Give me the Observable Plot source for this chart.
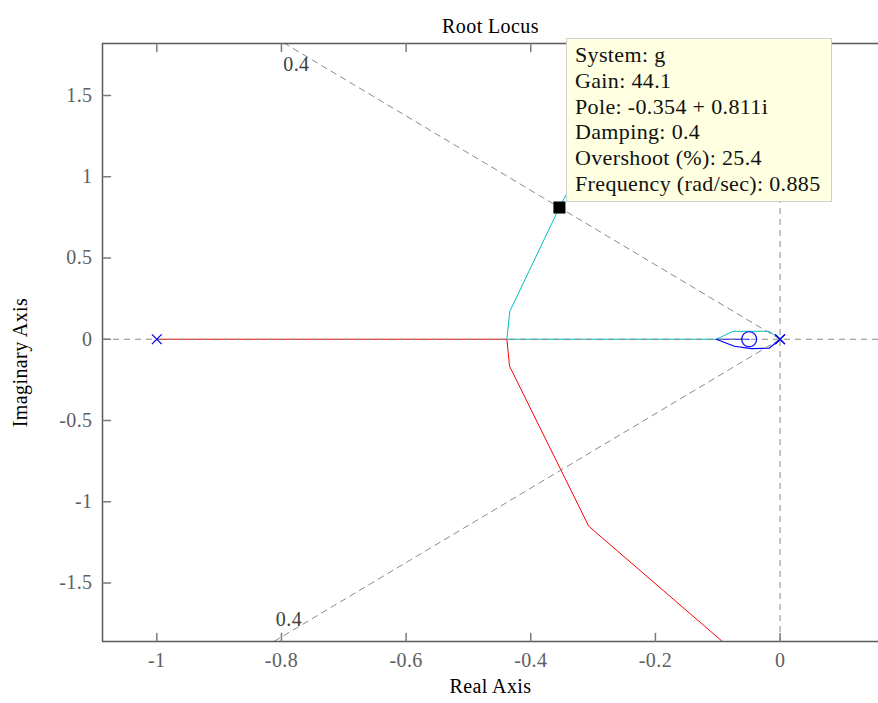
<!DOCTYPE html>
<html><head><meta charset="utf-8">
<script src="https://cdn.jsdelivr.net/npm/d3@7"></script>
<script src="https://cdn.jsdelivr.net/npm/@observablehq/plot@0.6"></script>
<style>
body{margin:0;background:#fff;}
#wrap{position:relative;width:878px;height:703px;overflow:hidden;font-family:"Liberation Serif",serif;}
#tip{position:absolute;left:566px;top:38px;width:266px;height:164px;background:#ffffe1;border:1px solid #cfcfcf;box-sizing:border-box;padding:3px 0 0 8px;font-size:22px;line-height:25.8px;letter-spacing:0.35px;color:#111;white-space:nowrap;}
</style></head><body><div id="wrap"></div>
<script>
// axis ticks and limits
const xTicks = [-1, -0.8, -0.6, -0.4, -0.2, 0];
const yTicks = [-1.5, -1, -0.5, 0, 0.5, 1, 1.5];
const xDomain = [-1.0871, 0.1579];
const yDomain = [-1.8608, 1.8208];

// root locus branches (real, imag)
const redBranch = [[-1, 0], [-0.4384, 0], [-0.434, -0.166], [-0.307, -1.151], [-0.0928, -1.86]];
const cyanBranch = [[0, 0], [-0.0176, 0.049], [-0.0757, 0.049], [-0.1024, 0], [-0.4384, 0], [-0.4336, 0.172], [-0.354, 0.811], [-0.307, 1.151], [-0.0928, 1.86]];
const blueBranch = [[0, 0], [-0.0176, -0.055], [-0.046, -0.058], [-0.0733, -0.043], [-0.1024, 0], [-0.0496, 0]];

// open-loop poles and zeros
const poles = [[-1, 0], [0, 0], [0, 0]];
const zeros = [[-0.0496, 0]];

// selected data tip
const selected = [[-0.354, 0.811]];
const tipLines = ["System: g", "Gain: 44.1", "Pole: -0.354 + 0.811i", "Damping: 0.4", "Overshoot (%): 25.4", "Frequency (rad/sec): 0.885"];

// damping grid line
const zeta = 0.4;
const dampSlope = Math.tan(Math.acos(zeta));
const dampLines = [
  [[0, 0], [-1, dampSlope]],
  [[0, 0], [-1, -dampSlope]]
];
const dampLabels = [
  {x: -0.776, y: 1.693, text: "0.4"},
  {x: -0.788, y: -1.724, text: "0.4"}
];

const titleText = "Root Locus";
const xLabel = "Real Axis";
const yLabel = "Imaginary Axis";

const tickShape = {draw(ctx, l) { ctx.moveTo(0, 0); ctx.lineTo(0, -l); }};
const gridStyle = {stroke: "#8a8a8a", strokeWidth: 1, strokeDasharray: "6,5"};

const chart = Plot.plot({
  width: 878,
  height: 703,
  marginTop: 43,
  marginBottom: 62,
  marginLeft: 102,
  marginRight: 0,
  style: {fontFamily: "Liberation Serif, serif", background: "transparent", letterSpacing: "0.4px"},
  x: {domain: xDomain, label: null},
  y: {domain: yDomain, label: null},
  marks: [
    Plot.line(redBranch, {x: d => d[0], y: d => d[1], stroke: "#ff0000", strokeWidth: 1, clip: true}),
    Plot.line(cyanBranch, {x: d => d[0], y: d => d[1], stroke: "#00bfbf", strokeWidth: 1, clip: true}),
    Plot.line(blueBranch, {x: d => d[0], y: d => d[1], stroke: "#0000ff", strokeWidth: 1.2, clip: true}),
    Plot.ruleY([0], gridStyle),
    Plot.ruleX([0], gridStyle),
    ...dampLines.map(l => Plot.line(l, {x: d => d[0], y: d => d[1], ...gridStyle, clip: true})),
    Plot.text(dampLabels, {x: "x", y: "y", text: "text", fontSize: 20, fill: "#404040"}),
    Plot.dot(poles, {x: d => d[0], y: d => d[1], symbol: "times", r: 4.5, stroke: "#0000ff", strokeWidth: 1.3}),
    Plot.dot(zeros, {x: d => d[0], y: d => d[1], symbol: "circle", r: 7.5, stroke: "#0000ff", fill: "none", strokeWidth: 1.2}),
    Plot.dot(selected, {x: d => d[0], y: d => d[1], symbol: "square", r: 6.8, fill: "#000000"}),
    // frame (box)
    Plot.ruleY([yDomain[1]], {stroke: "#5a5a5a", strokeWidth: 1.5}),
    Plot.ruleY([yDomain[0]], {stroke: "#5a5a5a", strokeWidth: 1.5}),
    Plot.ruleX([xDomain[0]], {stroke: "#5a5a5a", strokeWidth: 1.5}),
    // inward ticks
    Plot.vector(xTicks, {x: d => d, y: yDomain[0], length: 8, rotate: 0, anchor: "start", shape: tickShape, stroke: "#7a7a7a"}),
    Plot.vector(xTicks, {x: d => d, y: yDomain[1], length: 8, rotate: 180, anchor: "start", shape: tickShape, stroke: "#7a7a7a"}),
    Plot.vector(yTicks, {x: xDomain[0], y: d => d, length: 8, rotate: 90, anchor: "start", shape: tickShape, stroke: "#7a7a7a"}),
    // tick labels
    Plot.axisX(xTicks, {anchor: "bottom", tickSize: 0, tickPadding: 11, tickFormat: d => String(d), fontSize: 20, color: "#606060", label: null}),
    Plot.axisY(yTicks, {anchor: "left", tickSize: 0, tickPadding: 10, tickFormat: d => String(d), fontSize: 20, color: "#606060", label: null}),
    // titles
    Plot.text([titleText], {frameAnchor: "top", dy: -25, fontSize: 20, fill: "#000"}),
    Plot.text([xLabel], {frameAnchor: "bottom", dy: 51, fontSize: 20, fill: "#000"}),
    Plot.text([yLabel], {frameAnchor: "left", textAnchor: "middle", dx: -82, dy: 20, rotate: -90, fontSize: 20, fill: "#000"})
  ]
});

const wrap = document.getElementById("wrap");
wrap.appendChild(chart);
const tip = document.createElement("div");
tip.id = "tip";
tipLines.forEach(t => { const d = document.createElement("div"); d.textContent = t; tip.appendChild(d); });
wrap.appendChild(tip);
</script>
</body></html>
